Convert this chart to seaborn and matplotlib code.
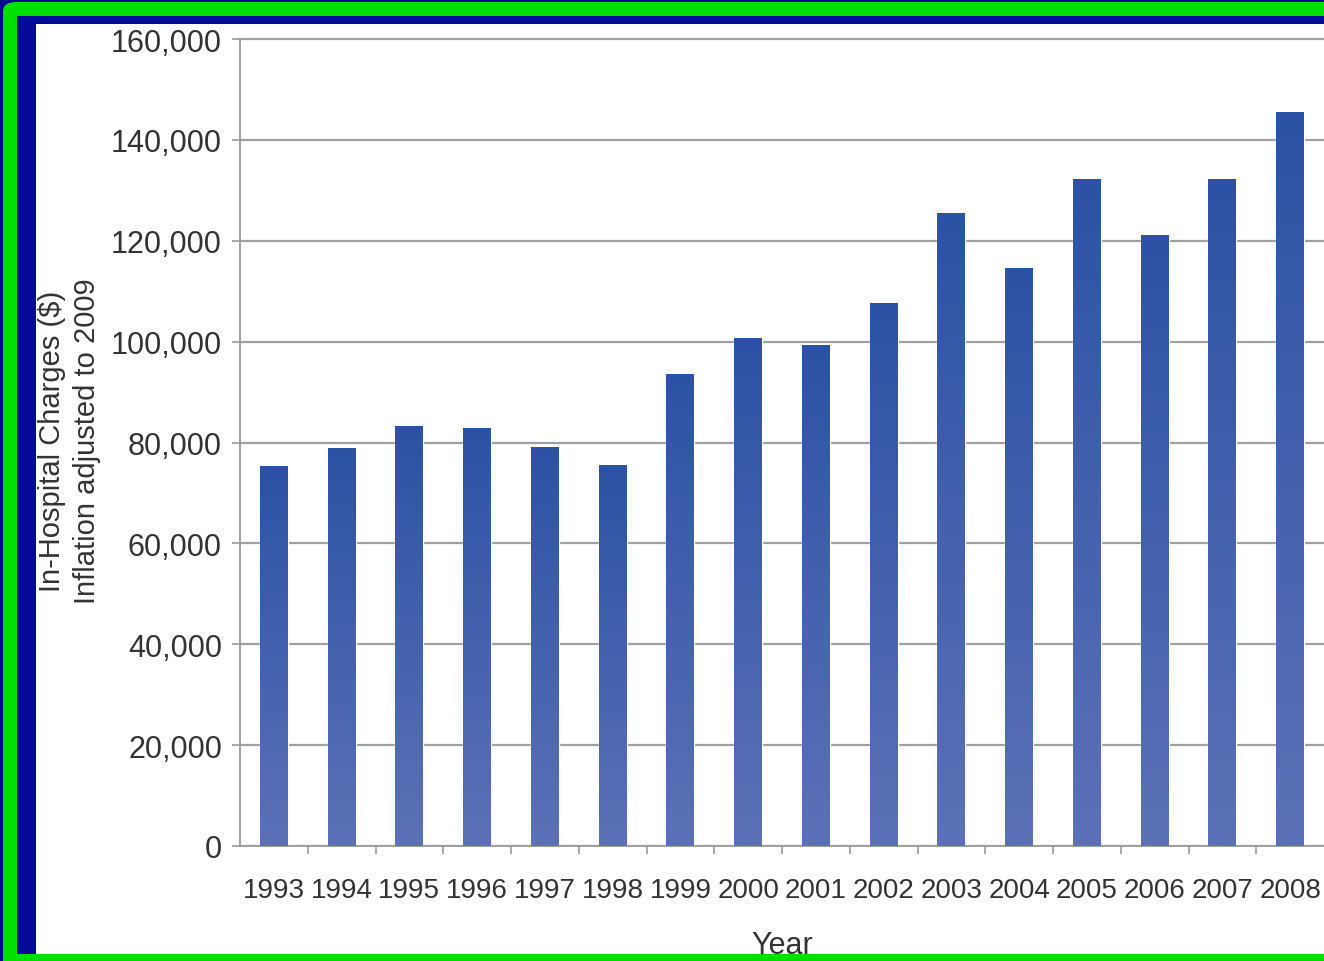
import numpy as np
import matplotlib
matplotlib.use("Agg")
import matplotlib.pyplot as plt
from matplotlib.patches import Rectangle, FancyBboxPatch
from matplotlib.colors import LinearSegmentedColormap
import seaborn as sns

years = ["1993", "1994", "1995", "1996", "1997", "1998", "1999", "2000",
         "2001", "2002", "2003", "2004", "2005", "2006", "2007", "2008"]
charges = [75300, 78900, 83200, 82800, 79100, 75500, 93400, 100700,
           99300, 107600, 125500, 114400, 132200, 121100, 132200, 145500]
y_ticks = [0, 20000, 40000, 60000, 80000, 100000, 120000, 140000, 160000]

W, H = 1324, 962

sns.set_style("white")
plt.rcParams["font.family"] = ["Liberation Sans", "DejaVu Sans"]

fig = plt.figure(figsize=(W / 100, H / 100), dpi=100)
fig.patch.set_facecolor("#000a8c")


def px_rect(x0, y0, x1, y1, color, rounded=False):
    # pixel box from the top-left corner -> figure fraction
    fx, fy = x0 / W, 1 - y1 / H
    fw, fh = (x1 - x0) / W, (y1 - y0) / H
    if rounded:
        p = FancyBboxPatch((fx, fy), fw, fh, boxstyle="round,pad=0,rounding_size=0.01",
                           transform=fig.transFigure, facecolor=color,
                           edgecolor="none", zorder=-10)
    else:
        p = Rectangle((fx, fy), fw, fh, transform=fig.transFigure,
                      facecolor=color, edgecolor="none", zorder=-10)
    fig.add_artist(p)


px_rect(3, 3, W + 40, H + 40, "#00e000", rounded=True)
px_rect(17, 17, W + 40, 955, "#000a99")
px_rect(36, 25, W + 40, 955, "white")

# axes: y=0 at px 847, 160,000 at px 40
top_px = 40 - 807 / 160 * 1.0
ax = fig.add_axes([240 / W, 1 - 847 / H, 1 - 240 / W, (847 - top_px) / H])
ax.set_facecolor("white")

sns.barplot(x=years, y=charges, color="#3d5fac", width=0.41, ax=ax, zorder=2)

# vertical gradient on each bar
grad = np.linspace(0, 1, 256).reshape(-1, 1)
cmap = LinearSegmentedColormap.from_list("bar", ["#5c71b7", "#2c52a5"])
for bar in ax.patches:
    x0, w, h = bar.get_x(), bar.get_width(), bar.get_height()
    ax.imshow(grad, extent=[x0, x0 + w, 0, h], origin="lower", aspect="auto",
              cmap=cmap, zorder=3)

ax.set_xlim(-0.5, len(years) - 0.5)
ax.set_ylim(0, 161000)
ax.set_yticks(y_ticks)
ax.set_yticklabels([f"{v:,}" for v in y_ticks])
ax.set_xticks(range(len(years)))
ax.set_xticks(np.arange(0.5, len(years) - 0.5, 1), minor=True)

ax.set_axisbelow(True)
ax.yaxis.grid(True, color="#a0a0a0", linewidth=1.6)
ax.xaxis.grid(False)

for side in ["top", "right"]:
    ax.spines[side].set_visible(False)
for side in ["left", "bottom"]:
    ax.spines[side].set_color("#9a9a9a")
    ax.spines[side].set_linewidth(1.3)
ax.spines["left"].set_bounds(0, 160000)

ax.tick_params(axis="y", which="major", left=True, length=6, width=1.2,
               color="#9a9a9a", labelsize=22, labelcolor="#333333", pad=7)
ax.tick_params(axis="x", which="major", bottom=False, length=0,
               labelsize=20, labelcolor="#333333", pad=22)
ax.tick_params(axis="x", which="minor", bottom=True, length=6, width=1.2,
               color="#9a9a9a")

ax.set_ylabel("In-Hospital Charges ($)\nInflation adjusted to 2009",
              fontsize=21, color="#333333", labelpad=7, linespacing=1.3)
ax.set_xlabel("Year", fontsize=22, color="#333333", labelpad=20)

fig.savefig("out.png", dpi=100)
